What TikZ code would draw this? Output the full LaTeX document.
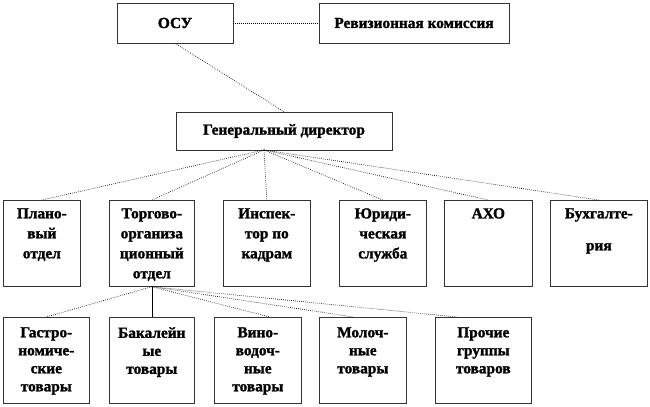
\documentclass[tikz,border=0pt]{standalone}
\usepackage{fontspec}
\setmainfont{Liberation Serif}[BoldFont={Liberation Serif Bold}, BoldFeatures={FakeBold=1.5}]
\begin{document}
\begin{tikzpicture}[x=0.75pt,y=-0.75pt,
  box/.style={draw=black!80, line width=0.5pt, anchor=north west, inner sep=0pt, minimum width=#1*0.75pt, minimum height=86*0.75pt},
  head/.style={draw=black!80, line width=0.5pt, inner sep=0pt, font=\rmfamily\bfseries\fontsize{11.5}{13}\selectfont},
  lbl/.style={anchor=north, align=center, inner sep=0pt, font=\rmfamily\bfseries\fontsize{11.5}{15}\selectfont},
  lbls/.style={lbl, font=\rmfamily\bfseries\fontsize{11.5}{13.5}\selectfont},
  link/.style={densely dotted, line width=0.5pt}]
\useasboundingbox (0,0) rectangle (650,407);
\begin{scope}[local bounding box=top]
  \node[head, minimum width=116*0.75pt, minimum height=40*0.75pt] (osu) at (175,23) {ОСУ};
  \node[head, minimum width=190*0.75pt, minimum height=40*0.75pt] (rev) at (414,23) {Ревизионная комиссия};
  \node[head, minimum width=216*0.75pt, minimum height=38*0.75pt] (gd) at (284,131) {Генеральный директор};
  \coordinate (hub) at (264,150);
\end{scope}
\begin{scope}[local bounding box=depts]
  \node[box=77] (plan) at (3,200) {};\node[box=85] (torg) at (109,200) {};\node[box=87] (insp) at (223,200) {};
  \node[box=87] (jur) at (339,200) {};\node[box=88] (axo) at (444,200) {};\node[box=97] (buh) at (550,200) {};
  \node[lbl] (plant) at ([yshift=-6pt]plan.north) {Плано-\\вый\\отдел};
  \node[lbl] (torgt) at ([yshift=-6pt]torg.north) {Торгово-\\организа\\ционный\\отдел};
  \node[lbl] (inspt) at ([yshift=-6pt]insp.north) {Инспек-\\тор по\\кадрам};
  \node[lbl] (jurt) at ([yshift=-6pt]jur.north) {Юриди-\\ческая\\служба};
  \node[lbl] (axot) at ([yshift=-6pt]axo.north) {АХО};
  \node[lbl] (buht) at ([yshift=-6pt]buh.north) {Бухгалте-\\[9pt]рия};
\end{scope}
\begin{scope}[local bounding box=goods]
  \node[box=86] (gastro) at (3,317) {};\node[box=85] (bak) at (109,317) {};\node[box=87] (vino) at (214,317) {};
  \node[box=87] (moloch) at (319,317) {};\node[box=96] (proch) at (435,317) {};
  \node[lbls] (gastrot) at ([yshift=-7.5pt]gastro.north) {Гастро-\\номиче-\\ские\\товары};
  \node[lbls] (bakt) at ([yshift=-7.5pt]bak.north) {Бакалейн\\ые\\товары};
  \node[lbls] (vinot) at ([yshift=-7.5pt]vino.north) {Вино-\\водоч-\\ные\\товары};
  \node[lbls] (molocht) at ([yshift=-7.5pt]moloch.north) {Молоч-\\ные\\товары};
  \node[lbls] (procht) at ([yshift=-7.5pt]proch.north) {Прочие\\группы\\товаров};
\end{scope}
% links
\draw[link] (osu) -- (rev);\draw[link] (osu.south) -- (gd.north);
\draw[link] (hub) -- (plan.north);\draw[link] (hub) -- (torg.north);\draw[link] (hub) -- (insp.north);
\draw[link] (hub) -- (jur.north);\draw[link] (hub) -- (axo.north);\draw[link] (hub) -- (buh.north);
\draw[link] (torg.south) -- (gastro.north);\draw[line width=0.5pt] (torg.south) -- (bak.north);
\draw[link] (torg.south) -- ([xshift=9pt]vino.north);\draw[link] (torg.south) -- ([xshift=-7pt]moloch.north);
\draw[link] (torg.south) -- ([xshift=-20pt]proch.north);
\end{tikzpicture}
\end{document}
